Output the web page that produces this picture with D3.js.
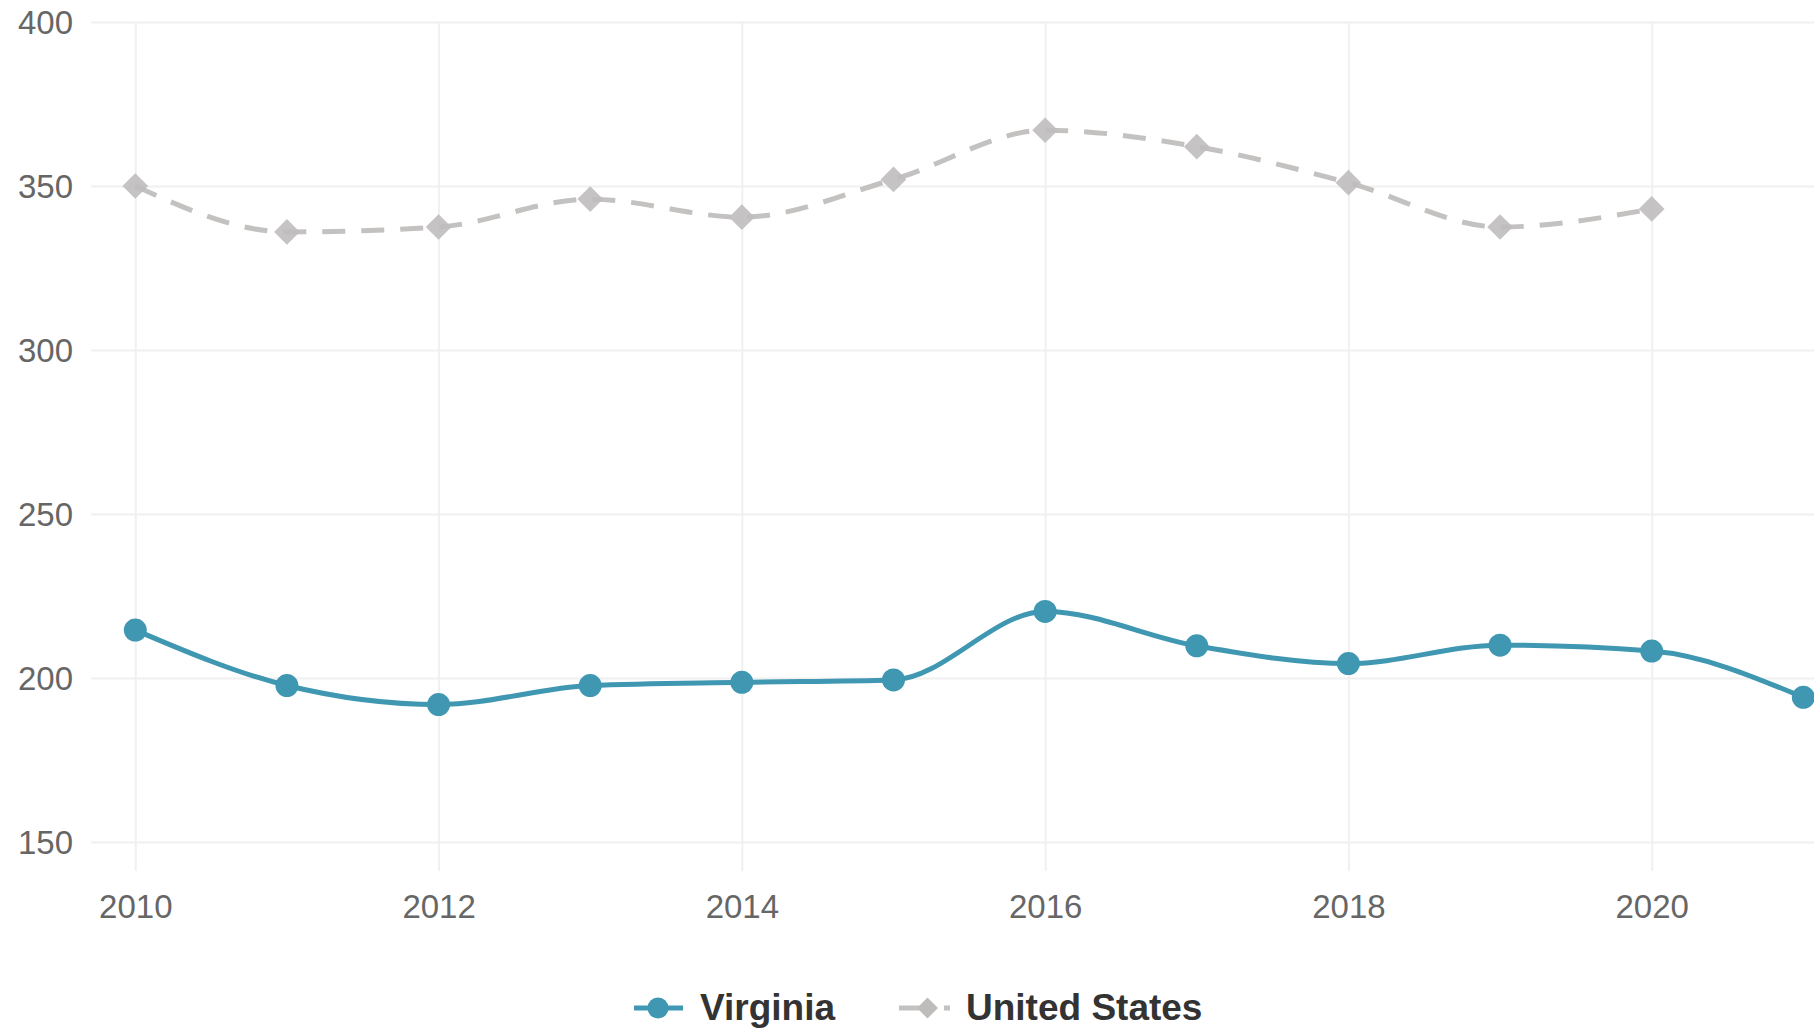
<!DOCTYPE html>
<html lang="en">
<head>
<meta charset="utf-8">
<title>Virginia vs United States</title>
<script src="https://d3js.org/d3.v7.min.js"></script>
<style>
	body { margin: 0; background: #fff; }
	svg text { font-family: "Liberation Sans", Arial, Helvetica, sans-serif; }
	.grid line { stroke: #f0f0f0; stroke-width: 2; }
	.grid path, .axis path { display: none; }
	.axis text { fill: #666; font-size: 33px; }
	.legend text { fill: #333; font-size: 37px; font-weight: bold; }
</style>
</head>
<body>
<script>

var years = [2010, 2011, 2012, 2013, 2014, 2015, 2016, 2017, 2018, 2019, 2020, 2021];
var virginia = [214.6, 197.7, 191.9, 197.7, 198.7, 199.4, 220.3, 209.8, 204.4, 210.0, 208.2, 194.1];

var usYears = [2010, 2011, 2012, 2013, 2014, 2015, 2016, 2017, 2018, 2019, 2020];
var unitedStates = [350, 336, 337.5, 346, 340.5, 352, 367, 362, 351, 337.5, 343];

var yTicks = [150, 200, 250, 300, 350, 400];
var xTicks = [2010, 2012, 2014, 2016, 2018, 2020];
var seriesNames = ["Virginia", "United States"];

var w = 1814;
var h = 1029;
var blue = "#3f97b2";
var grey = "#c4c2c1";

var svg = d3.select("body")
			.append("svg")
			.attr("width", w)
			.attr("height", h);

var x = d3.scaleLinear().domain([2010, 2020]).range([135.3, 1651.7]);
var y = d3.scaleLinear().domain([150, 400]).range([842, 22]);

// horizontal grid lines
svg.append("g")
	.attr("class", "grid")
	.attr("transform", "translate(91,0)")
	.call(d3.axisRight(y).tickValues(yTicks).tickSize(w - 91).tickFormat(""));

// vertical grid lines
svg.append("g")
	.attr("class", "grid")
	.attr("transform", "translate(0,22)")
	.call(d3.axisBottom(x).tickValues(xTicks).tickSize(849).tickFormat(""));

// y labels
var yAxis = svg.append("g")
	.attr("class", "axis")
	.attr("transform", "translate(73,0)")
	.call(d3.axisLeft(y).tickValues(yTicks).tickSize(0).tickPadding(0));
yAxis.selectAll("line").remove();
yAxis.selectAll("text").attr("x", 0).attr("dy", "0.36em");

// x labels
var xAxis = svg.append("g")
	.attr("class", "axis")
	.attr("transform", "translate(0,918)")
	.call(d3.axisBottom(x).tickValues(xTicks).tickSize(0).tickFormat(d3.format("d")));
xAxis.selectAll("line").remove();
xAxis.selectAll("text").attr("y", 0).attr("dy", 0);

var line = d3.line()
	.x(function(d){ return x(d[0]); })
	.y(function(d){ return y(d[1]); })
	.curve(d3.curveMonotoneX);

var usData = usYears.map(function(yr, i){ return [yr, unitedStates[i]]; });
var vaData = years.map(function(yr, i){ return [yr, virginia[i]]; });

// United States (dashed, diamonds)
svg.append("path")
	.datum(usData)
	.attr("d", line)
	.attr("fill", "none")
	.attr("stroke", grey)
	.attr("stroke-width", 5)
	.attr("stroke-dasharray", "23,16");

var diamond = d3.symbol().type(d3.symbolSquare).size(330);

svg.selectAll(".us-pt")
	.data(usData)
	.enter()
	.append("path")
	.attr("class", "us-pt")
	.attr("d", diamond)
	.attr("transform", function(d){ return "translate(" + x(d[0]) + "," + y(d[1]) + ") rotate(45)"; })
	.attr("fill", "#bfbdbc")
	.attr("opacity", 0.9);

// Virginia (solid, circles)
svg.append("path")
	.datum(vaData)
	.attr("d", line)
	.attr("fill", "none")
	.attr("stroke", blue)
	.attr("stroke-width", 5);

svg.selectAll(".va-pt")
	.data(vaData)
	.enter()
	.append("circle")
	.attr("class", "va-pt")
	.attr("cx", function(d){ return x(d[0]); })
	.attr("cy", function(d){ return y(d[1]); })
	.attr("r", 11.5)
	.attr("fill", blue);

// legend
var legend = svg.append("g").attr("class", "legend");

legend.append("line")
	.attr("x1", 634).attr("x2", 683).attr("y1", 1008).attr("y2", 1008)
	.attr("stroke", blue).attr("stroke-width", 5);
legend.append("circle")
	.attr("cx", 658).attr("cy", 1008).attr("r", 10.5).attr("fill", blue);
legend.append("text")
	.attr("x", 700).attr("y", 1020)
	.text(seriesNames[0]);

legend.append("line")
	.attr("x1", 899).attr("x2", 950).attr("y1", 1008).attr("y2", 1008)
	.attr("stroke", grey).attr("stroke-width", 5)
	.attr("stroke-dasharray", "21,24");
legend.append("path")
	.attr("d", d3.symbol().type(d3.symbolSquare).size(220))
	.attr("transform", "translate(927.5,1008) rotate(45)")
	.attr("fill", "#bfbdbc");
legend.append("text")
	.attr("x", 966).attr("y", 1020)
	.text(seriesNames[1]);

</script>
</body>
</html>
